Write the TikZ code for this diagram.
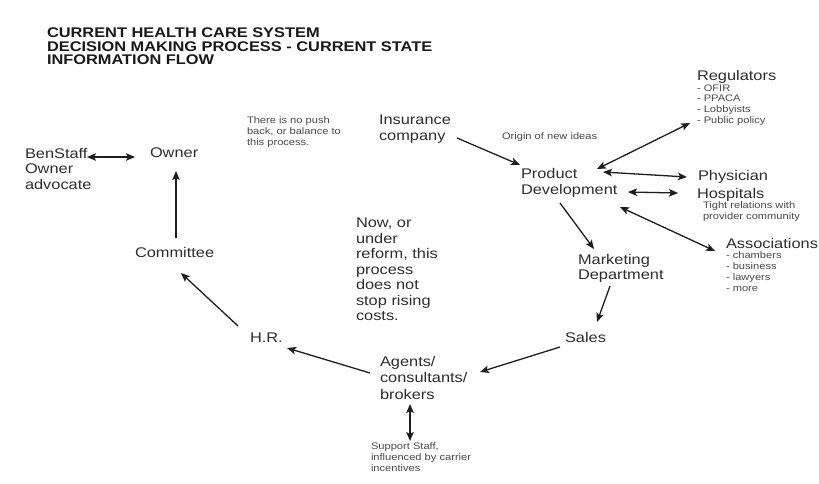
\documentclass[tikz,border=0pt]{standalone}
\usepackage{fontspec}
\setmainfont{Liberation Sans}
\newfontfamily\labfont[FakeStretch=1.17]{Liberation Sans}
\usetikzlibrary{arrows.meta,calc}
\definecolor{txt}{HTML}{2E2E2E}
\definecolor{smalltxt}{HTML}{4A4A4A}
\definecolor{arrc}{HTML}{1E1E1E}
\begin{document}
\begin{tikzpicture}[x=1pt,y=-1pt,
  base/.style={anchor=north west, inner sep=0pt, outer sep=0pt, align=left},
  ttl/.style={base, text=black!90, font=\labfont\bfseries\fontsize{14}{13.6}\selectfont},
  lab/.style={base, text=txt, font=\labfont\fontsize{14}{15.5}\selectfont},
  labw/.style={base, text=txt, font=\labfont\fontsize{14}{16.5}\selectfont},
  small/.style={base, text=smalltxt, font=\labfont\fontsize{9.5}{10.8}\selectfont},
  tip/.style={},
  arr/.style={-{Stealth[length=9pt,width=7.5pt,inset=2pt]}, line width=1.3pt, draw=arrc},
  darr/.style={{Stealth[length=9pt,width=7.5pt,inset=2pt]}-{Stealth[length=9pt,width=7.5pt,inset=2pt]}, line width=1.3pt, draw=arrc}]
\useasboundingbox (0,0) rectangle (819,483);
\fill[white] (0,0) rectangle (819,483);

\node[ttl] (title) at (47,28) {CURRENT HEALTH CARE SYSTEM\\DECISION MAKING PROCESS - CURRENT STATE\\INFORMATION FLOW};

\node[lab] (ben) at (25,148) {BenStaff\\Owner\\advocate};
\node[lab] (owner) at (150,148) {Owner};
\node[lab] (committee) at (135,247) {Committee};
\node[lab] (hr) at (250,333) {H.R.};
\node[labw] (agents) at (380,356) {Agents/\\consultants/\\brokers};
\node[lab] (sales) at (565,332) {Sales};
\node[lab] (mkt) at (578,254) {Marketing\\Department};
\node[labw] (pd) at (521,168) {Product\\Development};
\node[lab] (ins) at (379,115) {Insurance\\company};
\node[small] (origin) at (502,133) {Origin of new ideas};
\node[small] (nopush) at (247,117) {There is no push\\back, or balance to\\this process.};
\node[lab] (now) at (356,218) {Now, or\\under\\reform, this\\process\\does not\\stop rising\\costs.};
\node[lab] (reg) at (697,70) {Regulators};
\node[small] (regitems) at (697,84.5) {- OFIR\\- PPACA\\- Lobbyists\\- Public policy};
\node[lab] (phys) at (698,170) {Physician};
\node[lab] (hosp) at (697,188) {Hospitals};
\node[small] (tight) at (703,202) {Tight relations with\\provider community};
\node[lab] (assoc) at (726,238) {Associations};
\node[small] (associtems) at (726,252) {- chambers\\- business\\- lawyers\\- more};
\node[small] (support) at (371,443) {Support Staff,\\influenced by carrier\\incentives};

\draw[darr] ($(ben.north west)+(62,9)$) -- ($(owner.north west)+(-15,9)$);
\draw[arr] ($(committee.north west)+(41,-9)$) -- ($(owner.north west)+(26,23)$);
\draw[arr] ($(hr.north west)+(-12,-7)$) -- ($(committee.north west)+(46,26)$);
\draw[arr] ($(agents.north west)+(-10,17)$) -- ($(hr.north west)+(37,15)$);
\draw[arr] ($(sales.north west)+(-5,15)$) -- ($(agents.north west)+(100,16)$);
\draw[arr] ($(mkt.north west)+(32,32)$) -- ($(sales.north west)+(32,-10)$);
\draw[arr] ($(pd.north west)+(39,35)$) -- ($(mkt.north west)+(16,-5)$);
\draw[arr] ($(ins.north west)+(78,23)$) -- ($(pd.north west)+(-1,-3)$);
\draw[darr] ($(pd.north west)+(76,1)$) -- ($(reg.north west)+(-7,53)$);
\draw[darr] ($(pd.north west)+(82,4)$) -- ($(phys.north west)+(-11,7)$);
\draw[darr] ($(pd.north west)+(107,24)$) -- ($(hosp.north west)+(-19,5)$);
\draw[darr] ($(pd.north west)+(99,39)$) -- ($(assoc.north west)+(-11,13)$);
\draw[darr] ($(agents.north west)+(30,48)$) -- ($(support.north west)+(39,-2)$);
\end{tikzpicture}
\end{document}
